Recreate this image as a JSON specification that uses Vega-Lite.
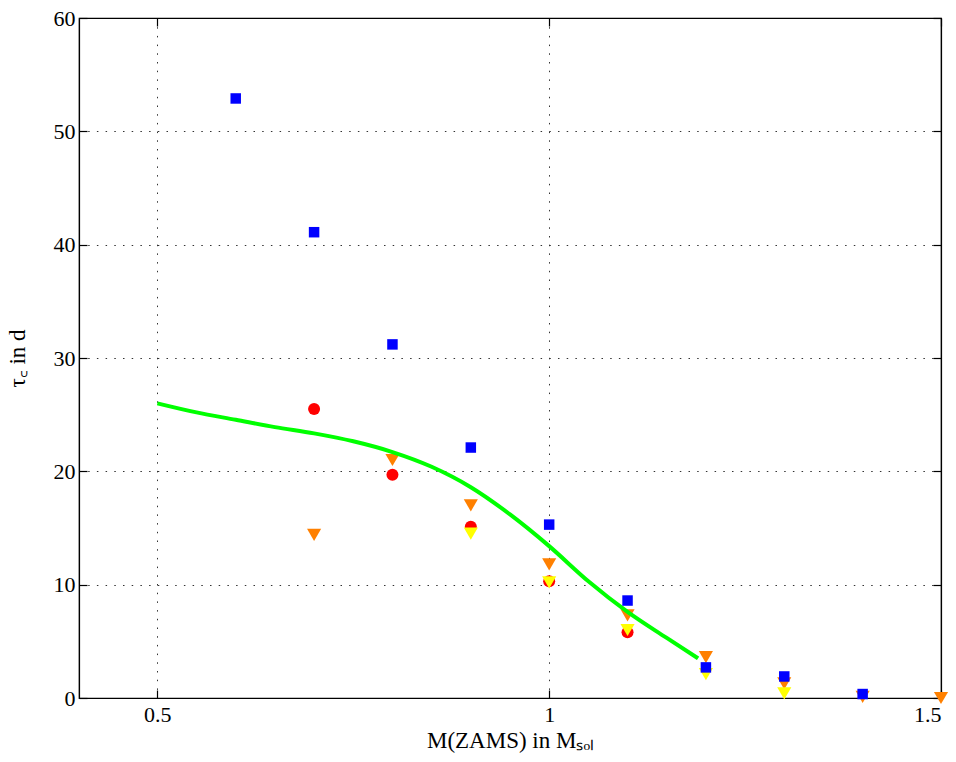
{
  "$schema": "https://vega.github.io/schema/vega-lite/v6.json",
  "autosize": {"type": "none"},
  "padding": {"left": 79, "top": 18, "right": 15, "bottom": 64},
  "width": 862,
  "height": 680,
  "background": "white",
  "config": {
    "view": {"stroke": "black", "strokeWidth": 1.2},
    "axis": {
      "labelFont": "Times New Roman",
      "titleFont": "Liberation Serif",
      "labelFontSize": 22,
      "titleFontSize": 23,
      "labelColor": "black",
      "titleColor": "black",
      "titleFontWeight": "normal",
      "domainColor": "black",
      "domainWidth": 1.2,
      "tickColor": "black",
      "tickSize": -8,
      "tickWidth": 1.2,
      "grid": true,
      "gridColor": "#333333",
      "gridDash": [1.5, 7.2],
      "gridWidth": 1,
      "labelPadding": 14
    }
  },
  "datasets": {
    "pts": [
      {"series": "red", "m": 0.7, "tau": 25.5},
      {"series": "red", "m": 0.8, "tau": 19.7},
      {"series": "red", "m": 0.9, "tau": 15.1},
      {"series": "red", "m": 1.0, "tau": 10.3},
      {"series": "red", "m": 1.1, "tau": 5.8},
      {"series": "orange", "m": 0.7, "tau": 14.4},
      {"series": "orange", "m": 0.8, "tau": 21.0},
      {"series": "orange", "m": 0.9, "tau": 17.0},
      {"series": "orange", "m": 1.0, "tau": 11.8},
      {"series": "orange", "m": 1.1, "tau": 7.3},
      {"series": "orange", "m": 1.2, "tau": 3.6},
      {"series": "orange", "m": 1.3, "tau": 1.3},
      {"series": "orange", "m": 1.4, "tau": 0.1},
      {"series": "orange", "m": 1.5, "tau": 0.0},
      {"series": "yellow", "m": 0.9, "tau": 14.5},
      {"series": "yellow", "m": 1.0, "tau": 10.2},
      {"series": "yellow", "m": 1.1, "tau": 6.0},
      {"series": "yellow", "m": 1.2, "tau": 2.1},
      {"series": "yellow", "m": 1.3, "tau": 0.4},
      {"series": "blue", "m": 0.6, "tau": 52.9},
      {"series": "blue", "m": 0.7, "tau": 41.1},
      {"series": "blue", "m": 0.8, "tau": 31.2},
      {"series": "blue", "m": 0.9, "tau": 22.1},
      {"series": "blue", "m": 1.0, "tau": 15.3},
      {"series": "blue", "m": 1.1, "tau": 8.6},
      {"series": "blue", "m": 1.2, "tau": 2.7},
      {"series": "blue", "m": 1.3, "tau": 1.9},
      {"series": "blue", "m": 1.4, "tau": 0.35}
    ],
    "fit": [
      {"m": 0.5, "tau": 26.0},
      {"m": 0.55, "tau": 25.2},
      {"m": 0.6, "tau": 24.55},
      {"m": 0.65, "tau": 23.9},
      {"m": 0.7, "tau": 23.35},
      {"m": 0.75, "tau": 22.65},
      {"m": 0.8, "tau": 21.7},
      {"m": 0.85, "tau": 20.4},
      {"m": 0.9, "tau": 18.6},
      {"m": 0.95, "tau": 16.2},
      {"m": 1.0, "tau": 13.4},
      {"m": 1.05, "tau": 10.3},
      {"m": 1.1, "tau": 7.6},
      {"m": 1.15, "tau": 5.3},
      {"m": 1.19, "tau": 3.5}
    ]
  },
  "resolve": {"axis": {"x": "independent", "y": "independent"}},
  "layer": [
    {
      "data": {"name": "pts"},
      "transform": [{"filter": "datum.series === 'red'"}],
      "mark": {"type": "point", "filled": true, "opacity": 1, "shape": "circle", "color": "#ff0000", "size": 144},
      "encoding": {
        "x": {"field": "m", "type": "quantitative", "scale": {"domain": [0.4, 1.5], "nice": false, "zero": false},
              "axis": {"values": [0.5, 1, 1.5], "format": "~g", "title": "M(ZAMS) in Mₛₒₗ", "titlePadding": 4, "labelFont": "Liberation Serif"}},
        "y": {"field": "tau", "type": "quantitative", "scale": {"domain": [0, 60], "nice": false},
              "axis": {"values": [0, 10, 20, 30, 40, 50, 60], "title": "τ꜀ in d", "titlePadding": 24, "labelPadding": 12, "labelFont": "Liberation Serif"}}
      }
    },
    {
      "data": {"name": "pts"},
      "transform": [{"filter": "datum.series === 'orange'"}],
      "mark": {"type": "point", "filled": true, "opacity": 1, "shape": "triangle-down", "color": "#ff8000", "size": 200},
      "encoding": {
        "x": {"field": "m", "type": "quantitative", "axis": {"orient": "top", "values": [0.5, 1, 1.5], "labels": false, "grid": false, "title": null, "tickSize": -8}},
        "y": {"field": "tau", "type": "quantitative", "axis": {"orient": "right", "values": [0, 10, 20, 30, 40, 50, 60], "labels": false, "grid": false, "title": null, "tickSize": -8}}
      }
    },
    {
      "data": {"name": "fit"},
      "mark": {"type": "line", "color": "#00ff00", "strokeWidth": 4, "interpolate": "monotone"},
      "encoding": {
        "x": {"field": "m", "type": "quantitative", "axis": null},
        "y": {"field": "tau", "type": "quantitative", "axis": null}
      }
    },
    {
      "data": {"name": "pts"},
      "transform": [{"filter": "datum.series === 'yellow'"}],
      "mark": {"type": "point", "filled": true, "opacity": 1, "shape": "triangle-down", "color": "#ffff00", "size": 200},
      "encoding": {
        "x": {"field": "m", "type": "quantitative", "axis": null},
        "y": {"field": "tau", "type": "quantitative", "axis": null}
      }
    },
    {
      "data": {"name": "pts"},
      "transform": [{"filter": "datum.series === 'blue'"}],
      "mark": {"type": "point", "filled": true, "opacity": 1, "shape": "square", "color": "#0000ff", "size": 110},
      "encoding": {
        "x": {"field": "m", "type": "quantitative", "axis": null},
        "y": {"field": "tau", "type": "quantitative", "axis": null}
      }
    }
  ]
}
